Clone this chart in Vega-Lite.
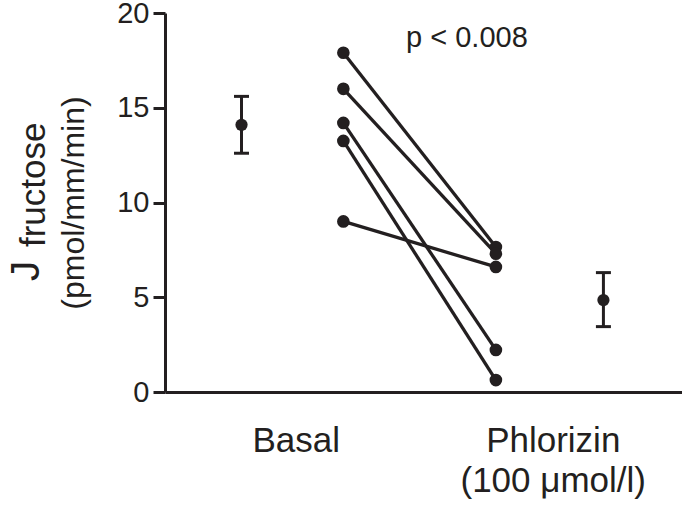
{
  "$schema": "https://vega.github.io/schema/vega-lite/v6.json",
  "autosize": {"type": "none"},
  "padding": {"left": 165, "top": 13, "right": 0, "bottom": 113},
  "width": 517,
  "height": 379,
  "background": "white",
  "datasets": {
    "pairs": [
      {"subject": 1, "basal": 17.9, "phlorizin": 7.65},
      {"subject": 2, "basal": 16.0, "phlorizin": 7.3},
      {"subject": 3, "basal": 14.2, "phlorizin": 2.22},
      {"subject": 4, "basal": 13.25, "phlorizin": 0.63},
      {"subject": 5, "basal": 9.0, "phlorizin": 6.6}
    ],
    "summary": [
      {"condition": "Basal", "mean": 14.1, "lo": 12.6, "hi": 15.6},
      {"condition": "Phlorizin", "mean": 4.85, "lo": 3.45, "hi": 6.3}
    ]
  },
  "config": {
    "view": {"stroke": null},
    "font": "Liberation Sans",
    "axis": {
      "domainColor": "#231f20",
      "domainWidth": 3,
      "tickColor": "#231f20",
      "tickWidth": 3,
      "labelColor": "#231f20",
      "titleColor": "#231f20",
      "labelFont": "Liberation Sans",
      "titleFont": "Liberation Sans",
      "labelLimit": 0,
      "grid": false
    }
  },
  "layer": [
    {
      "data": {"name": "pairs"},
      "mark": {"type": "rule", "stroke": "#231f20", "strokeWidth": 3.3},
      "encoding": {
        "x": {
          "datum": 3.45, "type": "quantitative",
          "scale": {"domain": [0, 10], "nice": false, "zero": false},
          "axis": {
            "title": null,
            "values": [2.53, 7.5],
            "ticks": false,
            "labelExpr": "datum.value < 5 ? 'Basal' : ['Phlorizin', '(100 μmol/l)']",
            "labelFontSize": 35,
            "labelLineHeight": 40,
            "labelPadding": 31,
            "labelAlign": "center",
            "labelFlush": false,
            "labelOverlap": false,
            "labelBound": false,
            "labelLimit": 0
          }
        },
        "x2": {"datum": 6.4},
        "y": {
          "field": "basal", "type": "quantitative",
          "title": "(pmol/mm/min)",
          "scale": {"domain": [0, 20], "nice": false, "zero": false},
          "axis": {
            "values": [0, 5, 10, 15, 20],
            "tickSize": 12,
            "labelPadding": 4,
            "labelFontSize": 29,
            "titleFontSize": 32,
            "titleFontWeight": "normal",
            "titlePadding": 26
          }
        },
        "y2": {"field": "phlorizin"}
      }
    },
    {
      "data": {"name": "pairs"},
      "mark": {"type": "point", "filled": true, "opacity": 1, "color": "#231f20", "size": 160},
      "encoding": {
        "x": {"datum": 3.45, "type": "quantitative"},
        "y": {"field": "basal", "type": "quantitative", "title": "(pmol/mm/min)"}
      }
    },
    {
      "data": {"name": "pairs"},
      "mark": {"type": "point", "filled": true, "opacity": 1, "color": "#231f20", "size": 160},
      "encoding": {
        "x": {"datum": 6.4, "type": "quantitative"},
        "y": {"field": "phlorizin", "type": "quantitative", "title": "(pmol/mm/min)"}
      }
    },
    {
      "data": {"name": "summary"},
      "transform": [{"filter": "datum.condition === 'Basal'"}],
      "encoding": {"x": {"datum": 1.48, "type": "quantitative"}},
      "layer": [
        {
          "mark": {"type": "rule", "stroke": "#231f20", "strokeWidth": 3},
          "encoding": {
            "y": {"field": "lo", "type": "quantitative", "title": "(pmol/mm/min)"},
            "y2": {"field": "hi"}
          }
        },
        {
          "mark": {"type": "tick", "orient": "horizontal", "color": "#231f20", "size": 15, "thickness": 3, "opacity": 1},
          "encoding": {"y": {"field": "lo", "type": "quantitative", "title": "(pmol/mm/min)"}}
        },
        {
          "mark": {"type": "tick", "orient": "horizontal", "color": "#231f20", "size": 15, "thickness": 3, "opacity": 1},
          "encoding": {"y": {"field": "hi", "type": "quantitative", "title": "(pmol/mm/min)"}}
        },
        {
          "mark": {"type": "point", "filled": true, "opacity": 1, "color": "#231f20", "size": 150},
          "encoding": {"y": {"field": "mean", "type": "quantitative", "title": "(pmol/mm/min)"}}
        }
      ]
    },
    {
      "data": {"name": "summary"},
      "transform": [{"filter": "datum.condition === 'Phlorizin'"}],
      "encoding": {"x": {"datum": 8.48, "type": "quantitative"}},
      "layer": [
        {
          "mark": {"type": "rule", "stroke": "#231f20", "strokeWidth": 3},
          "encoding": {
            "y": {"field": "lo", "type": "quantitative", "title": "(pmol/mm/min)"},
            "y2": {"field": "hi"}
          }
        },
        {
          "mark": {"type": "tick", "orient": "horizontal", "color": "#231f20", "size": 15, "thickness": 3, "opacity": 1},
          "encoding": {"y": {"field": "lo", "type": "quantitative", "title": "(pmol/mm/min)"}}
        },
        {
          "mark": {"type": "tick", "orient": "horizontal", "color": "#231f20", "size": 15, "thickness": 3, "opacity": 1},
          "encoding": {"y": {"field": "hi", "type": "quantitative", "title": "(pmol/mm/min)"}}
        },
        {
          "mark": {"type": "point", "filled": true, "opacity": 1, "color": "#231f20", "size": 150},
          "encoding": {"y": {"field": "mean", "type": "quantitative", "title": "(pmol/mm/min)"}}
        }
      ]
    },
    {
      "data": {"values": [{"label": "p < 0.008"}]},
      "mark": {"type": "text", "fontSize": 29, "color": "#231f20", "align": "center", "baseline": "alphabetic"},
      "encoding": {
        "x": {"datum": 5.84, "type": "quantitative"},
        "y": {"datum": 18.2, "type": "quantitative"},
        "text": {"field": "label"}
      }
    },
    {
      "data": {"values": [{"label": "J"}]},
      "mark": {"type": "text", "fontSize": 41, "color": "#231f20", "align": "left", "baseline": "alphabetic", "angle": 270},
      "encoding": {
        "x": {"datum": -2.44, "type": "quantitative"},
        "y": {"datum": 5.85, "type": "quantitative"},
        "text": {"field": "label"}
      }
    },
    {
      "data": {"values": [{"label": "fructose"}]},
      "mark": {"type": "text", "fontSize": 35, "color": "#231f20", "align": "left", "baseline": "alphabetic", "angle": 270},
      "encoding": {
        "x": {"datum": -2.32, "type": "quantitative"},
        "y": {"datum": 7.65, "type": "quantitative"},
        "text": {"field": "label"}
      }
    }
  ]
}
